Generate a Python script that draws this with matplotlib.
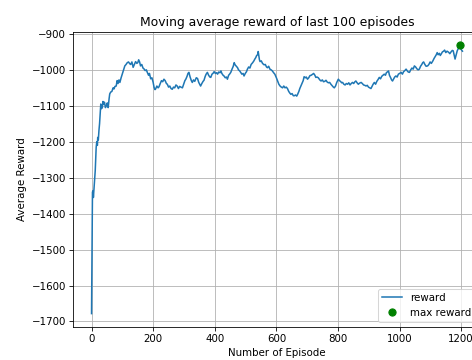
import numpy as np
import matplotlib
matplotlib.use("Agg")
import matplotlib.pyplot as plt

# Moving-average reward per episode (sampled along the training run)
episodes = [
    0, 1, 2, 3, 5, 6, 8, 10, 12, 14, 15, 17, 19, 20, 22, 24, 26, 28, 30, 32,
    35, 37, 39, 42, 45, 48, 51, 54, 57, 59, 62, 66, 70, 73, 76, 80, 83, 86, 89, 92,
    96, 100, 104, 108, 112, 116, 120, 124, 127, 131, 135, 139, 143, 147, 150, 153, 156, 159, 163, 167,
    170, 174, 178, 181, 185, 188, 192, 196, 200, 203, 206, 208, 212, 216, 219, 223, 227, 231, 235, 239,
    243, 246, 250, 254, 258, 262, 266, 270, 274, 278, 282, 286, 290, 295, 299, 303, 306, 310, 313, 316,
    320, 324, 327, 331, 335, 340, 344, 348, 351, 354, 358, 362, 365, 369, 372, 376, 380, 384, 387, 391,
    394, 398, 402, 406, 409, 413, 417, 420, 423, 427, 430, 434, 438, 441, 445, 448, 452, 456, 460, 463,
    466, 470, 474, 477, 481, 484, 488, 492, 495, 499, 503, 506, 510, 514, 518, 523, 527, 530, 533, 536,
    539, 541, 543, 545, 547, 551, 555, 560, 564, 568, 571, 575, 579, 583, 587, 591, 595, 600, 604, 608,
    612, 616, 620, 624, 628, 632, 636, 640, 644, 647, 651, 655, 658, 662, 666, 669, 673, 676, 680, 683,
    687, 690, 694, 697, 701, 705, 709, 713, 718, 721, 725, 728, 732, 736, 741, 745, 749, 753, 757, 761,
    765, 769, 773, 777, 781, 785, 788, 792, 796, 801, 805, 809, 812, 815, 819, 823, 827, 831, 835, 839,
    843, 847, 851, 854, 858, 862, 866, 870, 875, 879, 883, 887, 891, 895, 899, 903, 907, 911, 914, 918,
    922, 926, 930, 934, 938, 942, 946, 950, 954, 957, 961, 964, 967, 971, 974, 977, 981, 984, 988, 992,
    996, 1000, 1005, 1009, 1013, 1017, 1021, 1025, 1028, 1032, 1036, 1040, 1044, 1048, 1052, 1056, 1060, 1064, 1068, 1072,
    1075, 1078, 1082, 1086, 1091, 1095, 1099, 1103, 1108, 1112, 1116, 1119, 1122, 1125, 1129, 1132, 1135, 1139, 1143, 1146,
    1150, 1154, 1159, 1163, 1167, 1171, 1174, 1177, 1180, 1183, 1187, 1191, 1195, 1198, 1201, 1204,
]
rewards = [
    -1678, -1580, -1450, -1340, -1336, -1355, -1330, -1308, -1280, -1240, -1216, -1200, -1210, -1188, -1195, -1169, -1150, -1120, -1095, -1108,
    -1105, -1088, -1095, -1090, -1105, -1100, -1092, -1105, -1080, -1067, -1062, -1060, -1050, -1053, -1046, -1045, -1030, -1038, -1028, -1035,
    -1022, -1011, -1000, -989, -985, -980, -978, -983, -985, -978, -993, -985, -977, -982, -980, -972, -978, -989, -985, -995,
    -997, -1002, -1000, -1007, -1015, -1010, -1025, -1022, -1035, -1049, -1055, -1053, -1045, -1050, -1047, -1038, -1030, -1033, -1026, -1030,
    -1038, -1040, -1048, -1045, -1052, -1054, -1048, -1050, -1042, -1045, -1052, -1046, -1048, -1050, -1040, -1030, -1026, -1018, -1010, -1007,
    -1020, -1030, -1035, -1028, -1032, -1022, -1024, -1035, -1040, -1045, -1038, -1032, -1029, -1018, -1012, -1007, -1015, -1020, -1021, -1012,
    -1010, -1005, -1010, -1008, -1012, -1006, -1008, -1003, -1010, -1015, -1017, -1022, -1020, -1026, -1015, -1012, -1007, -998, -990, -980,
    -986, -990, -994, -1000, -1003, -1007, -1012, -1010, -1017, -1010, -1005, -998, -992, -995, -985, -980, -975, -970, -966, -960,
    -958, -949, -960, -972, -977, -975, -982, -986, -985, -992, -994, -990, -998, -1000, -1003, -1008, -1012, -1022, -1031, -1040,
    -1045, -1048, -1050, -1045, -1050, -1048, -1052, -1060, -1065, -1068, -1066, -1072, -1072, -1070, -1073, -1068, -1060, -1052, -1044, -1038,
    -1030, -1019, -1022, -1020, -1026, -1022, -1016, -1015, -1012, -1010, -1015, -1021, -1020, -1022, -1028, -1031, -1028, -1033, -1032, -1029,
    -1034, -1036, -1035, -1040, -1044, -1048, -1050, -1045, -1035, -1026, -1030, -1033, -1036, -1035, -1040, -1042, -1038, -1040, -1036, -1042,
    -1038, -1035, -1038, -1034, -1031, -1036, -1040, -1037, -1035, -1038, -1042, -1043, -1045, -1043, -1048, -1050, -1052, -1045, -1040, -1035,
    -1040, -1032, -1027, -1021, -1025, -1018, -1015, -1012, -1015, -1008, -1005, -1003, -1015, -1022, -1028, -1031, -1025, -1020, -1017, -1020,
    -1012, -1010, -1007, -1012, -1005, -1002, -998, -1003, -1006, -1007, -1000, -995, -998, -989, -992, -997, -1000, -998, -990, -985,
    -980, -978, -985, -990, -989, -985, -978, -982, -975, -968, -962, -958, -952, -958, -954, -960, -956, -950, -948, -945,
    -952, -948, -951, -955, -950, -946, -947, -958, -970, -960, -947, -940, -932, -940, -945, -948,
]

title = "Moving average reward of last 100 episodes"
xlabel = "Number of Episode"
ylabel = "Average Reward"
series_labels = ["reward", "max reward"]

ep = np.array(episodes)
rw = np.array(rewards)
best = int(np.argmax(rw))

dpi = 74
fig = plt.figure(figsize=(472 / dpi, 360 / dpi), dpi=dpi)
ax = fig.add_axes([73 / 472, 1 - 327 / 360, (481 - 73) / 472, (327 - 32) / 360])

ax.plot(ep, rw, color="tab:blue", linewidth=1.5, label=series_labels[0])
ax.plot(ep[best], rw[best], "o", color="green", markersize=7, label=series_labels[1])

ax.set_title(title)
ax.set_xlabel(xlabel)
ax.set_ylabel(ylabel)
ax.grid(True)
ax.legend(loc="lower right")

fig.savefig("out.png", dpi=dpi)
